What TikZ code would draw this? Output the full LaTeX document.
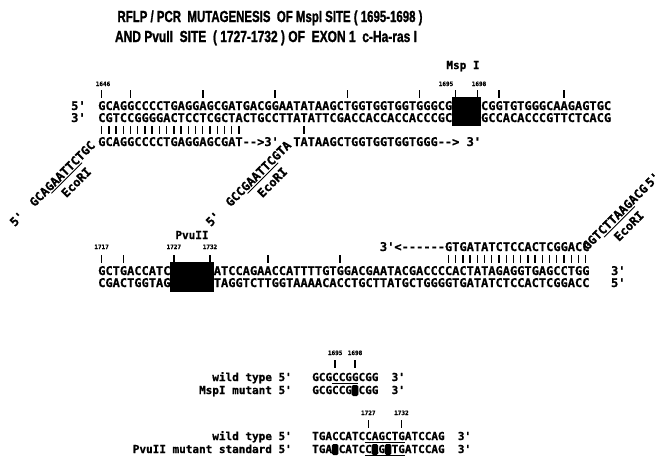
\documentclass[tikz,border=0pt]{standalone}
\usepackage{fontspec}
\usepackage{graphicx}
\usetikzlibrary{positioning}
\newfontfamily\seqfont{DejaVu Sans Mono}[BoldFeatures={FakeBold=0.8}]
\newfontfamily\headfont{Liberation Sans}[BoldFeatures={FakeBold=1.5}]
\newcommand{\chw}{7.225}
\newcommand{\chs}{6.622}
\newcommand{\hy}{\mbox{-}}
\tikzset{
  seq/.style   = {font=\seqfont\bfseries\fontsize{12}{12}\selectfont,
                  inner sep=0pt, anchor=base west},
  seqs/.style  = {font=\seqfont\bfseries\fontsize{11}{11}\selectfont,
                  inner sep=0pt, anchor=base west},
  enz/.style   = {font=\seqfont\bfseries\fontsize{11}{11}\selectfont,
                  inner sep=0pt, anchor=base},
  num/.style   = {font=\seqfont\bfseries\fontsize{6}{6}\selectfont,
                  inner sep=0pt, anchor=base},
  head/.style  = {font=\headfont\bfseries\fontsize{16}{16}\selectfont,
                  inner sep=0pt, anchor=base},
  tck/.style   = {line width=1.5pt},
  pair/.style  = {line width=1.4pt},
  uline/.style = {line width=0.9pt},
  site/.style  = {fill=black},
  mut/.style   = {fill=black, rounded corners=1.5pt},
}

\begin{document}
\begin{tikzpicture}[x=1pt, y=-1pt]
  \useasboundingbox (0,0) rectangle (664,459);

  \node[head] (title1) at (270,22)
    {\resizebox{305pt}{\height}{RFLP / PCR\ \ MUTAGENESIS\ \ OF MspI SITE ( 1695-1698 )}};
  \node[head] (title2) at (266,42)
    {\resizebox{302pt}{\height}{AND PvuII\ \ SITE\ \ ( 1727-1732 ) OF\ \ EXON 1\ \ c-Ha-ras I}};

  % exon 1, first part with the MspI site
  \node[enz] (msp) at (463,69) {Msp I};
  \node[num] (n1646) at (103,86) {1646};
  \node[num] (n1695) at (446,86) {1695};
  \node[num] (n1698) at (479,86) {1698};
  \foreach \k in {0,4,14,24,34,44,49,52,55,64}
    \draw[tck] ({98+(\k+0.5)*\chw},90) -- ++(0,8);
  \node[seq] (top5) at (71,110) {5'};
  \node[seq] (top3) at (71,122) {3'};
  \node[seq] (top1) at (98,110)
    {GCAGGCCCCTGAGGAGCGATGACGGAATATAAGCTGGTGGTGGTGGGCGCCGGCGGTGTGGGCAAGAGTGC};
  \node[seq] (top2) at (98,122)
    {CGTCCGGGGACTCCTCGCTACTGCCTTATATTCGACCACCACCACCCGCGGCCGCCACACCCGTTCTCACG};
  \fill[site] ({98+49*\chw},97) rectangle ({98+53*\chw},126);
  \foreach \k in {0,...,19,28,...,46}
    \draw[pair] ({98+(\k+0.5)*\chw},126) -- ++(0,8);
  \node[seq] (prA) at (98,146) {GCAGGCCCCTGAGGAGCGAT\hy\hy>3'};
  \node[seq] (prB) at ({98+27*\chw},146) {TATAAGCTGGTGGTGGTGGG\hy\hy>~3'};

  % EcoRI tails of the two forward primers
  \begin{scope}[shift={(96,146)}, rotate=45, transform shape]
    \node[seq, anchor=base east] (tailA) at (0,0) {GCAGAATTCTGC};
    \draw[uline] ({-9*\chw},2) -- ({-3*\chw},2);
    \node[seq, anchor=base] (ecoA) at ({-5.5*\chw},16) {EcoRI};
    \node[seq, anchor=base east] (fiveA) at (-100,0) {5'};
  \end{scope}
  \begin{scope}[shift={({97+27*\chw},146)}, rotate=45, transform shape]
    \node[seq, anchor=base east] (tailB) at (0,0) {GCCGAATTCGTA};
    \draw[uline] ({-9*\chw},2) -- ({-3*\chw},2);
    \node[seq, anchor=base] (ecoB) at ({-5.5*\chw},16) {EcoRI};
    \node[seq, anchor=base east] (fiveB) at (-100,0) {5'};
  \end{scope}

  % exon 1, second part with the PvuII site
  \node[enz] (pvu) at (192,239) {PvuII};
  \foreach \k/\n in {0/1717,10/1727,15/1732}
    \node[num] (n\n) at ({98+(\k+0.5)*\chw},249) {\n};
  \foreach \k in {0,3,10,15,23,33}
    \draw[tck] ({98+(\k+0.5)*\chw},255) -- ++(0,8);
  \node[seq] (prC) at ({98+39*\chw},251) {3'<\hy\hy\hy\hy\hy\hy GTGATATCTCCACTCGGACC};
  \foreach \k in {48,...,67}
    \draw[pair] ({98+(\k+0.5)*\chw},255) -- ++(0,8);
  \node[seq] (mid1) at (98,275)
    {GCTGACCATCCAGCTGATCCAGAACCATTTTGTGGACGAATACGACCCCACTATAGAGGTGAGCCTGG~~~3'};
  \node[seq] (mid2) at (98,287)
    {CGACTGGTAGGTCGACTAGGTCTTGGTAAAACACCTGCTTATGCTGGGGTGATATCTCCACTCGGACC~~~5'};
  \fill[site] ({98+10*\chw},262) rectangle ({98+16*\chw},292);

  % EcoRI tail of the reverse primer
  \begin{scope}[shift={({96+68*\chw},251)}, rotate=45, transform shape]
    \node[seq] (tailC) at (0,0) {GGTCTTAAGACG};
    \draw[uline] ({3*\chw},2) -- ({9*\chw},2);
    \node[seq, anchor=base] (ecoC) at ({6.5*\chw},16) {EcoRI};
    \node[seq] (fiveC) at ({12*\chw+2.5},0) {5'};
  \end{scope}

  % wild type and mutant MspI site
  \foreach \k/\n in {3/1695,6/1698} {
    \node[num] (m\n) at ({312+(\k+0.5)*\chs},355) {\n};
    \draw[tck] ({312+(\k+0.5)*\chs},360) -- ++(0,8);
  }
  \node[seqs, anchor=base east] (wtA) at (292,381) {wild type 5'};
  \node[seqs] (wtAseq) at (312,381) {GCGCCGGCGG~~3'};
  \draw[uline] ({312+3*\chs},383.5) -- ({312+7*\chs},383.5);
  \node[seqs, anchor=base east] (mtA) at (292,394) {MspI mutant 5'};
  \node[seqs] (mtAseq) at (312,394) {GCGCCGGCGG~~3'};
  \fill[mut] ({312+6*\chs},385) rectangle ++(\chs,11);

  % wild type and mutant PvuII site
  \foreach \k/\n in {8/1727,13/1732} {
    \node[num] (m\n) at ({312+(\k+0.5)*\chs},415) {\n};
    \draw[tck] ({312+(\k+0.5)*\chs},420) -- ++(0,8);
  }
  \node[seqs, anchor=base east] (wtB) at (292,440) {wild type 5'};
  \node[seqs] (wtBseq) at (312,440) {TGACCATCCAGCTGATCCAG~~3'};
  \draw[uline] ({312+8*\chs},442.5) -- ({312+14*\chs},442.5);
  \node[seqs, anchor=base east] (mtB) at (292,453) {PvuII mutant standard 5'};
  \node[seqs] (mtBseq) at (312,453) {TGACCATCCAGCTGATCCAG~~3'};
  \draw[uline] ({312+8*\chs},455.5) -- ({312+14*\chs},455.5);
  \foreach \k in {3,9,11}
    \fill[mut] ({312+\k*\chs},444) rectangle ++(\chs,11);
\end{tikzpicture}
\end{document}
